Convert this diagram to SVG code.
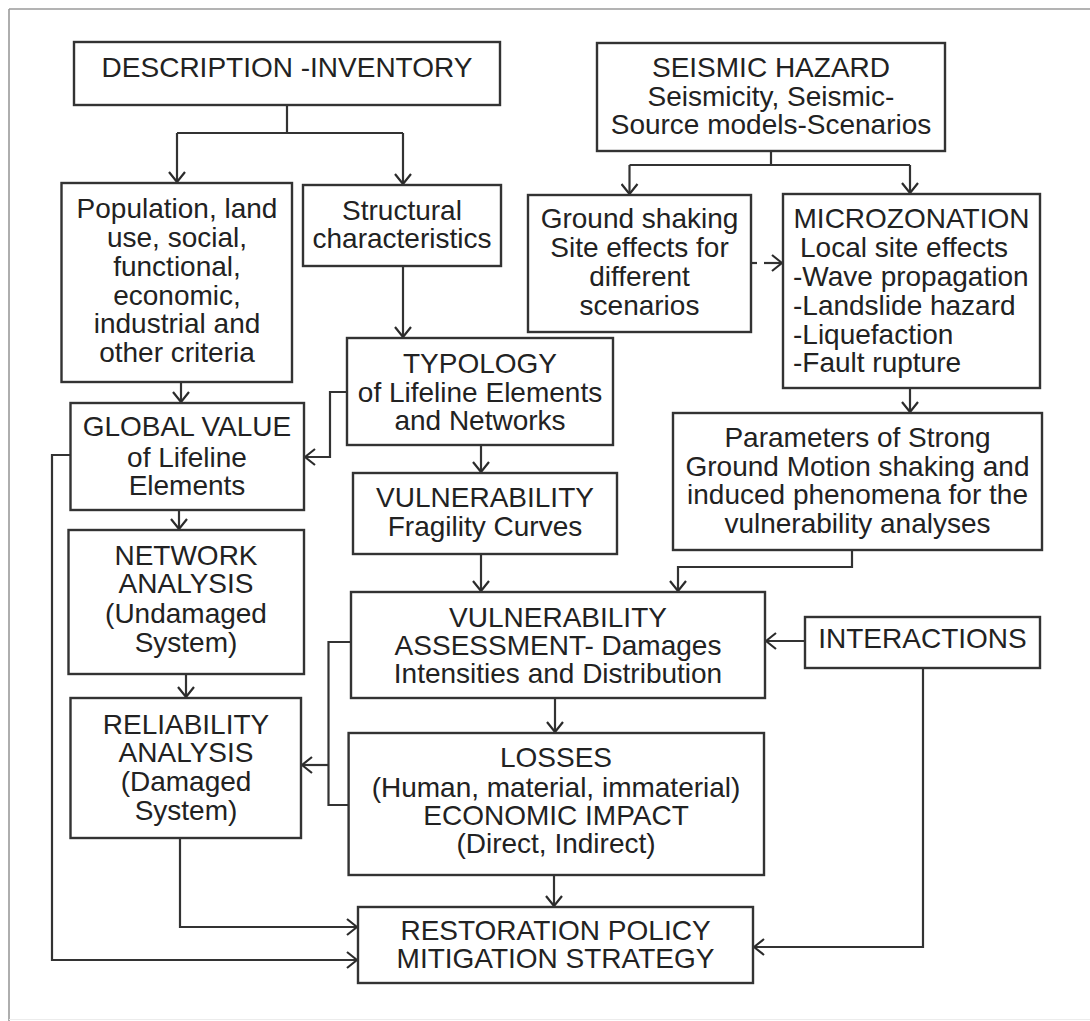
<svg xmlns="http://www.w3.org/2000/svg" width="1090" height="1021" viewBox="0 0 1090 1021">
<defs>
<marker id="ah" viewBox="0 0 12 18" refX="11" refY="9" markerWidth="12" markerHeight="18" markerUnits="userSpaceOnUse" orient="auto">
<path d="M1,1 L11,9 L1,17" fill="none" stroke="#2b2b2b" stroke-width="2.2"/>
</marker>
</defs>
<style>
.box{fill:#fff;stroke:#333;stroke-width:2.4}
.t{font-family:"Liberation Sans",Arial,sans-serif;font-size:28px;fill:#222;text-anchor:middle}
.l{text-anchor:start}
.c{fill:none;stroke:#333;stroke-width:2.2}
.frame{stroke:#9a9a9a;stroke-width:1.6}
</style>
<rect x="0" y="0" width="1090" height="1021" fill="#fff"/>
<line class="frame" x1="9" y1="9" x2="1090" y2="9"/>
<line class="frame" x1="9" y1="9" x2="9" y2="1021"/>
<line x1="9" y1="1019.5" x2="1090" y2="1019.5" stroke="#ececec" stroke-width="1"/>

<g id="connectors">
<path class="c" d="M287,105 V133 M177,133 H403"/>
<path class="c" d="M177,133 V182" marker-end="url(#ah)"/>
<path class="c" d="M403,133 V184" marker-end="url(#ah)"/>
<path class="c" d="M771,151 V165 M629.5,165 H910"/>
<path class="c" d="M629.5,165 V194" marker-end="url(#ah)"/>
<path class="c" d="M910,165 V193" marker-end="url(#ah)"/>
<path class="c" d="M403,266 V337" marker-end="url(#ah)"/>
<path class="c" d="M181,382 V402" marker-end="url(#ah)"/>
<path class="c" d="M347,392 H330 V457 H305" marker-end="url(#ah)"/>
<path class="c" d="M70.5,455 H52 V960 H357" marker-end="url(#ah)"/>
<path class="c" d="M481,445 V472" marker-end="url(#ah)"/>
<path class="c" d="M481,554 V591" marker-end="url(#ah)"/>
<path class="c" d="M179,510 V529" marker-end="url(#ah)"/>
<path class="c" d="M186,674 V697" marker-end="url(#ah)"/>
<path class="c" d="M751,263 H757"/>
<path class="c" d="M764,263 H782" marker-end="url(#ah)"/>
<path class="c" d="M910,388 V412" marker-end="url(#ah)"/>
<path class="c" d="M852,550 V567 H678 V591" marker-end="url(#ah)"/>
<path class="c" d="M805,641 H766" marker-end="url(#ah)"/>
<path class="c" d="M351,642 H328.5 V805 H348.6"/>
<path class="c" d="M328.5,765 H302" marker-end="url(#ah)"/>
<path class="c" d="M555,698 V732" marker-end="url(#ah)"/>
<path class="c" d="M554,875 V906" marker-end="url(#ah)"/>
<path class="c" d="M180,838 V927 H357" marker-end="url(#ah)"/>
<path class="c" d="M923,668 V947 H754" marker-end="url(#ah)"/>
</g>

<g id="description">
<rect class="box" x="74" y="42" width="426" height="63"/>
<text class="t" x="287" y="77">DESCRIPTION -INVENTORY</text>
</g>
<g id="seismic-hazard">
<rect class="box" x="597" y="43" width="348" height="108"/>
<text class="t" x="771" y="77">SEISMIC HAZARD</text>
<text class="t" x="771" y="106">Seismicity, Seismic-</text>
<text class="t" x="771" y="134">Source models-Scenarios</text>
</g>
<g id="population">
<rect class="box" x="61.5" y="183" width="230.5" height="199"/>
<text class="t" x="177" y="218">Population, land</text>
<text class="t" x="177" y="247">use, social,</text>
<text class="t" x="177" y="276">functional,</text>
<text class="t" x="177" y="304.5">economic,</text>
<text class="t" x="177" y="333">industrial and</text>
<text class="t" x="177" y="361.5">other criteria</text>
</g>
<g id="structural">
<rect class="box" x="303" y="185" width="198" height="81"/>
<text class="t" x="402" y="220">Structural</text>
<text class="t" x="402" y="248">characteristics</text>
</g>
<g id="ground-shaking">
<rect class="box" x="528" y="195" width="223" height="137"/>
<text class="t" x="639.5" y="228">Ground shaking</text>
<text class="t" x="639.5" y="257">Site effects for</text>
<text class="t" x="639.5" y="286">different</text>
<text class="t" x="639.5" y="315">scenarios</text>
</g>
<g id="microzonation">
<rect class="box" x="783" y="194" width="257" height="194"/>
<text class="t" x="911.5" y="228">MICROZONATION</text>
<text class="t l" x="800" y="257">Local site effects</text>
<text class="t l" x="793" y="286">-Wave propagation</text>
<text class="t l" x="793" y="315">-Landslide hazard</text>
<text class="t l" x="793" y="344">-Liquefaction</text>
<text class="t l" x="793" y="372">-Fault rupture</text>
</g>
<g id="typology">
<rect class="box" x="347" y="338" width="266" height="107"/>
<text class="t" x="480" y="373">TYPOLOGY</text>
<text class="t" x="480" y="402">of Lifeline Elements</text>
<text class="t" x="480" y="430">and Networks</text>
</g>
<g id="global-value">
<rect class="box" x="70.5" y="403" width="233.5" height="107"/>
<text class="t" x="187" y="436">GLOBAL VALUE</text>
<text class="t" x="187" y="466.5">of Lifeline</text>
<text class="t" x="187" y="495">Elements</text>
</g>
<g id="vulnerability-fragility">
<rect class="box" x="353" y="473" width="264" height="81"/>
<text class="t" x="485" y="507">VULNERABILITY</text>
<text class="t" x="485" y="536">Fragility Curves</text>
</g>
<g id="parameters">
<rect class="box" x="673" y="413" width="369" height="137"/>
<text class="t" x="857.5" y="447">Parameters of Strong</text>
<text class="t" x="857.5" y="475.5">Ground Motion shaking and</text>
<text class="t" x="857.5" y="504">induced phenomena for the</text>
<text class="t" x="857.5" y="533">vulnerability analyses</text>
</g>
<g id="network-analysis">
<rect class="box" x="68.5" y="530" width="235.5" height="144"/>
<text class="t" x="186" y="565">NETWORK</text>
<text class="t" x="186" y="593">ANALYSIS</text>
<text class="t" x="186" y="623">(Undamaged</text>
<text class="t" x="186" y="652">System)</text>
</g>
<g id="vulnerability-assessment">
<rect class="box" x="351" y="592" width="414" height="106"/>
<text class="t" x="558" y="627">VULNERABILITY</text>
<text class="t" x="558" y="655">ASSESSMENT- Damages</text>
<text class="t" x="558" y="683">Intensities and Distribution</text>
</g>
<g id="interactions">
<rect class="box" x="805" y="617" width="235" height="51"/>
<text class="t" x="922.5" y="648">INTERACTIONS</text>
</g>
<g id="reliability">
<rect class="box" x="70.5" y="698" width="230.5" height="140"/>
<text class="t" x="186" y="734">RELIABILITY</text>
<text class="t" x="186" y="762">ANALYSIS</text>
<text class="t" x="186" y="791">(Damaged</text>
<text class="t" x="186" y="820">System)</text>
</g>
<g id="losses">
<rect class="box" x="348.6" y="733" width="415.4" height="142"/>
<text class="t" x="556" y="767">LOSSES</text>
<text class="t" x="556" y="797">(Human, material, immaterial)</text>
<text class="t" x="556" y="825">ECONOMIC IMPACT</text>
<text class="t" x="556" y="853">(Direct, Indirect)</text>
</g>
<g id="restoration">
<rect class="box" x="358" y="907" width="395" height="76"/>
<text class="t" x="555.5" y="940">RESTORATION POLICY</text>
<text class="t" x="555.5" y="968">MITIGATION STRATEGY</text>
</g>
</svg>
